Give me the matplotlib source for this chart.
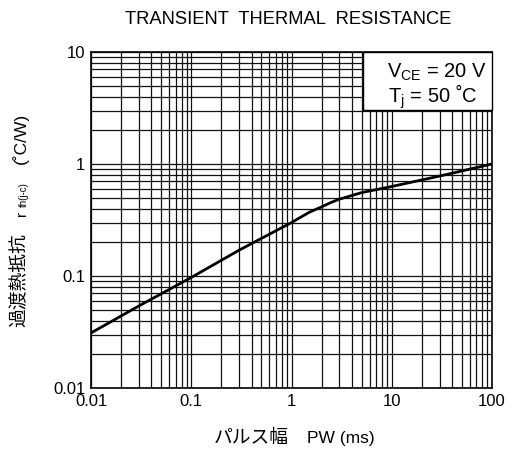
import matplotlib
matplotlib.use('Agg')
import matplotlib.pyplot as plt
from matplotlib.patches import Rectangle
from matplotlib.ticker import LogLocator, NullFormatter, FixedLocator, FixedFormatter

plt.rcParams['font.family'] = ['Liberation Sans', 'Noto Sans CJK JP', 'DejaVu Sans']

# pulse width (ms) and transient thermal resistance (C/W)
pw = [0.01, 0.03, 0.1, 0.3, 1, 1.2, 1.5, 2, 2.5, 3, 5, 10, 30, 100]
rth = [0.031, 0.054, 0.097, 0.17, 0.30, 0.33, 0.37, 0.415, 0.455, 0.485, 0.555, 0.63, 0.78, 1.0]

x_ticks = [0.01, 0.1, 1, 10, 100]
x_labels = ['0.01', '0.1', '1', '10', '100']
y_ticks = [0.01, 0.1, 1, 10]
y_labels = ['0.01', '0.1', '1', '10']

fig = plt.figure(figsize=(5.13, 4.51), dpi=100)
ax = fig.add_axes([91/513, 1-388/451, 401/513, 336/451])

ax.set_xscale('log')
ax.set_yscale('log')
ax.set_xlim(0.01, 100)
ax.set_ylim(0.01, 10)

ax.xaxis.set_major_locator(FixedLocator(x_ticks))
ax.xaxis.set_major_formatter(FixedFormatter(x_labels))
ax.yaxis.set_major_locator(FixedLocator(y_ticks))
ax.yaxis.set_major_formatter(FixedFormatter(y_labels))
ax.xaxis.set_minor_locator(LogLocator(base=10, subs=range(2, 10), numticks=20))
ax.yaxis.set_minor_locator(LogLocator(base=10, subs=range(2, 10), numticks=20))
ax.xaxis.set_minor_formatter(NullFormatter())
ax.yaxis.set_minor_formatter(NullFormatter())

ax.grid(True, which='both', color='#111111', linewidth=0.9)
ax.tick_params(which='both', length=0, labelsize=12, pad=4)
for s in ax.spines.values():
    s.set_linewidth(1.2)

ax.plot(pw, rth, color='black', linewidth=2.0, zorder=3)

# condition box (white box covering the grid in the top right corner)
box = Rectangle((363/513, 1-110/451), (492-363)/513, 58/451, transform=fig.transFigure,
                facecolor='white', edgecolor='black', linewidth=1.0, zorder=4)
fig.patches.append(box)
fig.text(487/513, 1-78/451, 'V$_{\\mathregular{CE}}$ = 20 V', ha='right', va='baseline',
         fontsize=14.5, zorder=5)
fig.text(477/513, 1-103/451, 'T$_{\\mathregular{j}}$ = 50 ˚C', ha='right', va='baseline',
         fontsize=14.5, zorder=5)

fig.text(288/513, 1-20/451, 'TRANSIENT  THERMAL  RESISTANCE', ha='center', va='center', fontsize=13.2)

# x label
fig.text(289/513, 1-438/451, 'パルス幅', ha='right', va='center', fontsize=13.5)
fig.text(307/513, 1-439/451, 'PW (ms)', ha='left', va='center', fontsize=12.5)

# y label in pieces
fig.text(20/513, 1-280/451, '過渡熱抵抗', rotation=90, ha='center', va='center', fontsize=13.5)
fig.text(22/513, 1-213/451, 'r', rotation=90, ha='center', va='center', fontsize=11)
fig.text(24/513, 1-195/451, 'th(j-c)', rotation=90, ha='center', va='center', fontsize=7)
fig.text(20/513, 1-138/451, '(˚C/W)', rotation=90, ha='center', va='center', fontsize=12.5)

fig.savefig('out.png', dpi=100)
